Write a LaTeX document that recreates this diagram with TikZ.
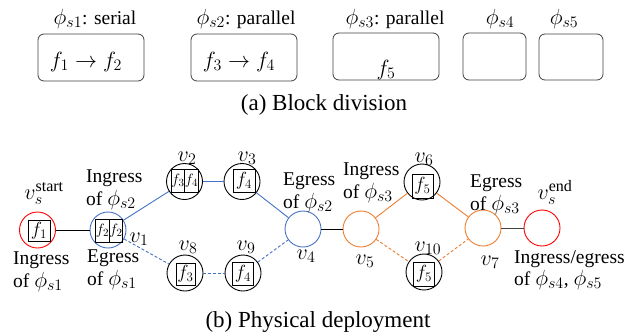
\RequirePackage{fix-cm}
\documentclass[tikz,border=0pt]{standalone}
\usepackage{fontspec}
\setmainfont{Liberation Serif}
\DeclareMathSizes{19.5}{22}{16}{12}
\DeclareMathSizes{17}{19}{13}{10}
\DeclareMathSizes{15}{15}{11}{8}
\definecolor{cblue}{HTML}{4472C4}
\definecolor{corange}{HTML}{ED7D31}
\definecolor{cred}{HTML}{FF0000}
\tikzset{
 vtx/.style={circle,draw,minimum size=36pt,inner sep=0pt,line width=0.9pt},
 fbx/.style={draw,rectangle,minimum width=20pt,minimum height=23pt,inner sep=0pt,line width=0.8pt,font=\fontsize{17}{17}\selectfont},
 fbxs/.style={fbx,minimum width=13.5pt,font=\fontsize{15}{15}\selectfont},
 lbl/.style={inner sep=0pt,align=left,font=\fontsize{19.5}{22.5}\selectfont},
 vlbl/.style={inner sep=0pt,anchor=base,font=\fontsize{19.5}{22.5}\selectfont},
 toplbl/.style={inner sep=0pt,anchor=base,font=\fontsize{19.5}{22.5}\selectfont},
 captxt/.style={inner sep=0pt,anchor=base,font=\fontsize{23}{26}\selectfont},
 blk/.style={draw=black!75,rounded corners=6pt,line width=0.8pt,inner sep=0pt},
 conn/.style={line width=0.9pt},
 dsh/.style={dash pattern=on 3pt off 2pt}
}
\begin{document}
\begin{tikzpicture}[x=1pt,y=-1pt]
\useasboundingbox (0,0) rectangle (636,335);
% ---------- (a) Block division ----------
\node[blk,minimum width=106pt,minimum height=47pt] (b1) at (91,57.5) {};
\node[blk,minimum width=106pt,minimum height=47pt] (b2) at (244,57.5) {};
\node[blk,minimum width=106pt,minimum height=47pt] (b3) at (386,56.5) {};
\node[blk,minimum width=63pt,minimum height=47pt] (b4) at (494.5,56.5) {};
\node[blk,minimum width=64pt,minimum height=46pt] (b5) at (571,57) {};
\node[toplbl] (t1) at (95,24) {$\phi_{s1}$: serial};
\node[toplbl] (t2) at (246,24) {$\phi_{s2}$: parallel};
\node[toplbl] (t3) at (395,24) {$\phi_{s3}$: parallel};
\node[toplbl] (t4) at (500,24) {$\phi_{s4}$};
\node[toplbl] (t5) at (564,24) {$\phi_{s5}$};
\node[toplbl] (c1) at (86,67) {$f_1\rightarrow f_2$};
\node[toplbl] (c2) at (239,67) {$f_3\rightarrow f_4$};
\node[toplbl] (c3) at (386,75) {$f_5$};
\node[captxt] (capa) at (324,110) {(a) Block division};
% ---------- (b) Physical deployment ----------
\node[vtx,draw=cred] (s) at (37.5,230) {};
\node[vtx,draw=cblue] (v1) at (108,230) {};
\node[vtx] (v2) at (184.5,181.5) {};
\node[vtx] (v3) at (242,181.5) {};
\node[vtx] (v8) at (185,273) {};
\node[vtx] (v9) at (243,273) {};
\node[vtx,draw=cblue] (v4) at (303,229) {};
\node[vtx,draw=corange] (v5) at (361,229) {};
\node[vtx] (v6) at (422,182) {};
\node[vtx] (v10) at (424,272) {};
\node[vtx,draw=corange] (v7) at (483,228) {};
\node[vtx,draw=cred] (e) at (542,228) {};
% function boxes
\node[fbx,minimum width=22pt,minimum height=21pt] (fs) at (39,230.5) {$f_1$};
\node[fbxs] (f1a) at (102.5,230.5) {$f_2$};
\node[fbxs] (f1b) at (116,230.5) {$f_2$};
\node[fbxs] (f2a) at (178,180.5) {$f_3$};
\node[fbxs] (f2b) at (191.5,180.5) {$f_4$};
\node[fbx,minimum width=22pt] (f3) at (244,180.5) {$f_4$};
\node[fbx,minimum width=19pt,minimum height=22pt] (f8) at (185.5,274) {$f_3$};
\node[fbx,minimum width=21pt] (f9) at (243,274) {$f_4$};
\node[fbx,minimum width=21pt,minimum height=24pt] (f6) at (422.5,186) {$f_5$};
\node[fbx,minimum width=21pt,minimum height=24pt] (f10) at (424,274) {$f_5$};
% connectors
\draw[conn] (s) -- (v1);
\draw[conn,cblue] (v1) -- (v2);
\draw[conn,cblue] (v2) -- (v3);
\draw[conn,cblue] (v3) -- (v4);
\draw[conn,cblue,dsh] (v1) -- (v8);
\draw[conn,cblue,dsh] (v8) -- (v9);
\draw[conn,cblue,dsh] (v9) -- (v4);
\draw[conn] (v4) -- (v5);
\draw[conn,corange] (v5) -- (v6);
\draw[conn,corange] (v6) -- (v7);
\draw[conn,corange,dsh] (v5) -- (v10);
\draw[conn,corange,dsh] (v10) -- (v7);
\draw[conn,black!75] (v7) -- (e);
% vertex labels
\node[vlbl] (ls) at (44,199) {$v_s^{\mathrm{start}}$};
\node[vlbl] (l1) at (139,242) {$v_1$};
\node[vlbl] (l2) at (187,161) {$v_2$};
\node[vlbl] (l3) at (247,161) {$v_3$};
\node[vlbl] (l8) at (188,250) {$v_8$};
\node[vlbl] (l9) at (246,250) {$v_9$};
\node[vlbl] (l4) at (306,259) {$v_4$};
\node[vlbl] (l5) at (365,264) {$v_5$};
\node[vlbl] (l6) at (424,162) {$v_6$};
\node[vlbl] (l10) at (428,251) {$v_{10}$};
\node[vlbl] (l7) at (490,265) {$v_7$};
\node[vlbl] (le) at (555,199) {$v_s^{\mathrm{end}}$};
% role labels
\node[lbl,anchor=north west] (r1) at (13,252) {Ingress\\of $\phi_{s1}$};
\node[lbl,anchor=north west] (r2) at (86,170) {Ingress\\of $\phi_{s2}$};
\node[lbl,anchor=north west] (r3) at (87,250) {Egress\\of $\phi_{s1}$};
\node[lbl,anchor=north west] (r4) at (283,173) {Egress\\of $\phi_{s2}$};
\node[lbl,anchor=north west] (r5) at (343,163) {Ingress\\of $\phi_{s3}$};
\node[lbl,anchor=north west] (r6) at (470,175) {Egress\\of $\phi_{s3}$};
\node[lbl,anchor=north west] (r7) at (514,250) {Ingress/egress\\of $\phi_{s4}$, $\phi_{s5}$};
\node[captxt] (capb) at (318,327) {(b) Physical deployment};
\end{tikzpicture}
\end{document}
